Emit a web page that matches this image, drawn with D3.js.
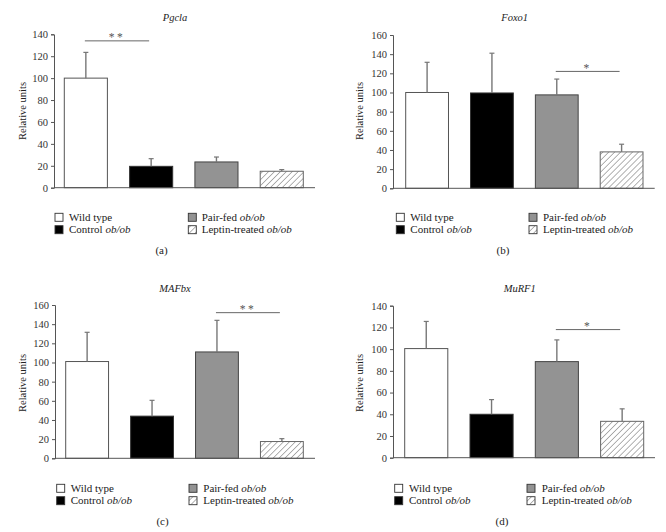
<!DOCTYPE html>
<html><head><meta charset="utf-8">
<script src="https://cdn.jsdelivr.net/npm/d3@7"></script>
<style>body{margin:0;background:#fff}svg{display:block}</style>
</head><body><svg id="c" width="666" height="532"></svg>
<script>
const groups = ["Wild type", "Control ob/ob", "Pair-fed ob/ob", "Leptin-treated ob/ob"];
const genes = ["Pgcla", "Foxo1", "MAFbx", "MuRF1"];
const captions = ["(a)", "(b)", "(c)", "(d)"];
const yMax = [140, 160, 160, 140];
const pgclaMean = [100, 19.5, 23.5, 15];
const pgclaErr = [23.5, 7, 4.5, 1.5];
const foxo1Mean = [100, 99.5, 97.5, 38];
const foxo1Err = [31.5, 41.5, 16.5, 8];
const mafbxMean = [101, 44, 111, 17.5];
const mafbxErr = [30.5, 16.5, 33, 3];
const murf1Mean = [100.5, 40, 88.5, 33.5];
const murf1Err = [25, 13.5, 20, 11.5];
const sigPairs = [[0, 1], [2, 3], [2, 3], [2, 3]];
const sigLabels = ["**", "*", "**", "*"];
const sigHeights = [134, 122, 152, 118];

const means = [pgclaMean, foxo1Mean, mafbxMean, murf1Mean];
const errs = [pgclaErr, foxo1Err, mafbxErr, murf1Err];

// layout per panel
const layout = [
  {ax: 54, axEnd: 315, y0: 187.7, yTop: 34.3, b0: 64.3, b1: 303.3, tx: 175, ty: 20.5, lx: 22, ly: 111,
   legY: 213.3, sq1: 55, t1: 69, sq2: 188.3, t2: 201.7, capX: 161.5, capY: 253.5},
  {ax: 393, axEnd: 654.7, y0: 188.3, yTop: 35, b0: 405.7, b1: 643, tx: 514.7, ty: 20.5, lx: 359.7, ly: 111,
   legY: 213.3, sq1: 396.3, t1: 410.3, sq2: 529, t2: 543, capX: 503, capY: 253.5},
  {ax: 55, axEnd: 315, y0: 458.3, yTop: 305, b0: 65.7, b1: 303.3, tx: 175, ty: 292, lx: 22, ly: 383,
   legY: 484.3, sq1: 56.7, t1: 70.7, sq2: 189, t2: 203.3, capX: 162.5, capY: 525},
  {ax: 393, axEnd: 655, y0: 457.7, yTop: 305.7, b0: 404.7, b1: 643.7, tx: 519.7, ty: 292, lx: 359.7, ly: 383,
   legY: 484.3, sq1: 394.7, t1: 409, sq2: 527, t2: 541.7, capX: 502, capY: 525}
];

const fills = ["#ffffff", "#000000", "#939393", "url(#hatch)"];
const strokes = ["#555", "#333", "#444", "#666"];
const SERIF = "Liberation Serif";

const svg = d3.select("#c");
const defs = svg.append("defs");
const pat = defs.append("pattern").attr("id", "hatch").attr("patternUnits", "userSpaceOnUse")
  .attr("width", 4.2).attr("height", 4.2).attr("patternTransform", "rotate(45)");
pat.append("rect").attr("width", 4.2).attr("height", 4.2).attr("fill", "#fff");
pat.append("line").attr("x1", 0).attr("y1", 0).attr("x2", 0).attr("y2", 4.2)
  .attr("stroke", "#666").attr("stroke-width", 1);

genes.forEach((gene, p) => {
  const L = layout[p];
  const g = svg.append("g").attr("font-family", SERIF).attr("fill", "#222");
  const y = d3.scaleLinear().domain([0, yMax[p]]).range([L.y0, L.yTop]);
  const x = d3.scaleBand().domain(groups).range([L.b0, L.b1]).paddingInner(0.34).paddingOuter(0);

  // y axis
  const yAxis = d3.axisLeft(y).tickValues(d3.range(0, yMax[p] + 1, 20)).tickSize(3).tickPadding(3);
  const ya = g.append("g").attr("transform", `translate(${L.ax},0)`).call(yAxis)
    .attr("font-family", SERIF).attr("font-size", 10.5);
  ya.select(".domain").attr("stroke", "#555").attr("stroke-width", 1);
  ya.selectAll(".tick line").attr("stroke", "#555");
  ya.selectAll(".tick text").attr("fill", "#333").attr("font-family", SERIF);

  // bars
  g.selectAll("rect.bar").data(groups).join("rect").attr("class", "bar")
    .attr("x", d => x(d)).attr("width", x.bandwidth())
    .attr("y", (d, i) => y(means[p][i])).attr("height", (d, i) => L.y0 - y(means[p][i]))
    .attr("fill", (d, i) => fills[i]).attr("stroke", (d, i) => strokes[i]).attr("stroke-width", 1);

  // error bars
  groups.forEach((d, i) => {
    const cx = x(d) + x.bandwidth() / 2;
    const top = y(means[p][i] + errs[p][i]);
    g.append("line").attr("x1", cx).attr("x2", cx).attr("y1", y(means[p][i])).attr("y2", top)
      .attr("stroke", "#777").attr("stroke-width", 1.4);
    g.append("line").attr("x1", cx - 2.5).attr("x2", cx + 2.5).attr("y1", top).attr("y2", top)
      .attr("stroke", "#777").attr("stroke-width", 1.2);
  });

  // x axis baseline
  g.append("line").attr("x1", L.ax).attr("x2", L.axEnd).attr("y1", L.y0).attr("y2", L.y0)
    .attr("stroke", "#555").attr("stroke-width", 1);

  // significance
  const [a, b] = sigPairs[p];
  const xa = x(groups[a]) + x.bandwidth() / 2 - 1, xb = x(groups[b]) + x.bandwidth() / 2 - 2;
  const sy = y(sigHeights[p]);
  g.append("line").attr("x1", xa).attr("x2", xb).attr("y1", sy).attr("y2", sy)
    .attr("stroke", "#666").attr("stroke-width", 1);
  g.append("text").attr("x", (xa + xb) / 2).attr("y", sy + 0.5).attr("text-anchor", "middle")
    .attr("font-size", 11.5).attr("letter-spacing", 2.5).attr("fill", "#555").text(sigLabels[p]);

  // title
  g.append("text").attr("x", L.tx).attr("y", L.ty).attr("text-anchor", "middle")
    .attr("font-size", 10.5).attr("font-style", "italic").text(gene);

  // y label
  g.append("text").attr("transform", `translate(${L.lx},${L.ly}) rotate(-90)`)
    .attr("text-anchor", "middle").attr("dy", "0.35em").attr("font-size", 10.5).text("Relative units");

  // legend
  const legPos = [
    {sx: L.sq1, tx: L.t1, y: L.legY},
    {sx: L.sq1, tx: L.t1, y: L.legY + 12.4},
    {sx: L.sq2, tx: L.t2, y: L.legY},
    {sx: L.sq2, tx: L.t2, y: L.legY + 12.4}
  ];
  groups.forEach((name, i) => {
    const P = legPos[i];
    g.append("rect").attr("x", P.sx).attr("y", P.y).attr("width", 8).attr("height", 8)
      .attr("fill", fills[i]).attr("stroke", "#333").attr("stroke-width", 0.9);
    const t = g.append("text").attr("x", P.tx).attr("y", P.y + 7.6).attr("font-size", 11);
    const m = name.match(/^(.*?)(ob\/ob)?$/);
    t.append("tspan").text(m[2] ? m[1] : name);
    if (m[2]) t.append("tspan").attr("font-style", "italic").text(m[2]);
  });

  // caption
  g.append("text").attr("x", L.capX).attr("y", L.capY).attr("text-anchor", "middle")
    .attr("font-size", 11).text(captions[p]);
});
</script></body></html>
